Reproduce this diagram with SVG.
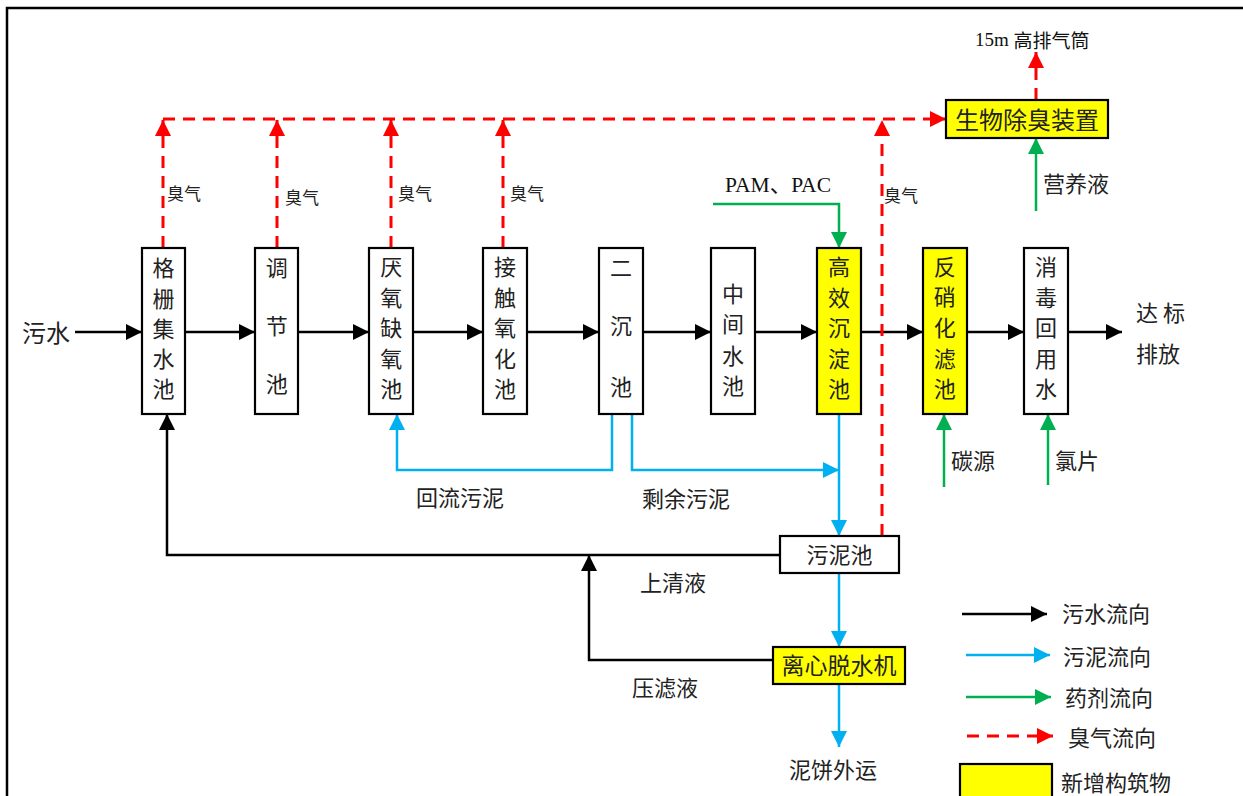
<svg xmlns="http://www.w3.org/2000/svg" width="1243" height="796" viewBox="0 0 1243 796">
<defs>
<style>
.box{fill:#fff;stroke:#000;stroke-width:2.2}
.ybox{fill:#FFFF00;stroke:#000;stroke-width:2.2}
.t{font-family:"Noto Sans CJK SC","Noto Sans",sans-serif;fill:#222;dominant-baseline:central;text-anchor:middle}
.tl{font-family:"Noto Sans CJK SC","Noto Sans",sans-serif;fill:#222;dominant-baseline:central;text-anchor:start}
.s{font-family:"Liberation Serif","Noto Sans CJK SC",serif;fill:#111;dominant-baseline:central}
.bk{fill:none;stroke:#000;stroke-width:2.5}
.bl{fill:none;stroke:#00B0F0;stroke-width:2.5}
.gr{fill:none;stroke:#00B050;stroke-width:2.5}
.rd{fill:none;stroke:#FF0000;stroke-width:3;stroke-dasharray:12 8}
</style>
<marker id="ak" markerUnits="userSpaceOnUse" markerWidth="16" markerHeight="16" refX="16" refY="8" orient="auto"><path d="M0,0 L16,8 L0,16 z" fill="#000"/></marker>
<marker id="ab" markerUnits="userSpaceOnUse" markerWidth="16" markerHeight="16" refX="16" refY="8" orient="auto"><path d="M0,0 L16,8 L0,16 z" fill="#00B0F0"/></marker>
<marker id="ag" markerUnits="userSpaceOnUse" markerWidth="16" markerHeight="16" refX="16" refY="8" orient="auto"><path d="M0,0 L16,8 L0,16 z" fill="#00B050"/></marker>
<marker id="ar" markerUnits="userSpaceOnUse" markerWidth="16" markerHeight="16" refX="16" refY="8" orient="auto"><path d="M0,0 L16,8 L0,16 z" fill="#FF0000"/></marker>
</defs>
<rect x="7" y="8" width="1250" height="800" fill="#fff" stroke="#000" stroke-width="2.5"/>

<g id="connectors">
<line class="bk" x1="75" y1="332" x2="142" y2="332" marker-end="url(#ak)"/>
<line class="bk" x1="185" y1="332" x2="255" y2="332" marker-end="url(#ak)"/>
<line class="bk" x1="298" y1="332" x2="369" y2="332" marker-end="url(#ak)"/>
<line class="bk" x1="413" y1="332" x2="483" y2="332" marker-end="url(#ak)"/>
<line class="bk" x1="527" y1="332" x2="599" y2="332" marker-end="url(#ak)"/>
<line class="bk" x1="643" y1="332" x2="711" y2="332" marker-end="url(#ak)"/>
<line class="bk" x1="755" y1="332" x2="817" y2="332" marker-end="url(#ak)"/>
<line class="bk" x1="861" y1="332" x2="923" y2="332" marker-end="url(#ak)"/>
<line class="bk" x1="967" y1="332" x2="1024" y2="332" marker-end="url(#ak)"/>
<line class="bk" x1="1068" y1="332" x2="1122" y2="332" marker-end="url(#ak)"/>
<line class="rd" x1="163" y1="248" x2="163" y2="120" marker-end="url(#ar)"/>
<line class="rd" x1="277" y1="248" x2="277" y2="120" marker-end="url(#ar)"/>
<line class="rd" x1="391" y1="248" x2="391" y2="120" marker-end="url(#ar)"/>
<line class="rd" x1="503" y1="248" x2="503" y2="120" marker-end="url(#ar)"/>
<line class="rd" x1="882" y1="536" x2="882" y2="120" marker-end="url(#ar)"/>
<line class="rd" x1="163" y1="119" x2="946" y2="119" marker-end="url(#ar)"/>
<line class="rd" x1="1036" y1="100" x2="1036" y2="52" marker-end="url(#ar)"/>
<polyline class="gr" points="713,204 839,204 839,248" marker-end="url(#ag)"/>
<line class="gr" x1="1036" y1="211" x2="1036" y2="138" marker-end="url(#ag)"/>
<line class="gr" x1="944" y1="487" x2="944" y2="414" marker-end="url(#ag)"/>
<line class="gr" x1="1048" y1="485" x2="1048" y2="414" marker-end="url(#ag)"/>
<polyline class="bl" points="612,414 612,470 397,470 397,414" marker-end="url(#ab)"/>
<polyline class="bl" points="632,414 632,470 839,470" marker-end="url(#ab)"/>
<line class="bl" x1="839" y1="414" x2="839" y2="536" marker-end="url(#ab)"/>
<line class="bl" x1="839" y1="573" x2="839" y2="647" marker-end="url(#ab)"/>
<line class="bl" x1="839" y1="684" x2="839" y2="747" marker-end="url(#ab)"/>
<polyline class="bk" points="780,555 167,555 167,414" marker-end="url(#ak)"/>
<polyline class="bk" points="773,660 589,660 589,555" marker-end="url(#ak)"/>
</g>

<g id="n_geshan"><rect class="box" x="142" y="248" width="43" height="166"/>
<text class="t" font-size="22" x="163.5" y="266">格</text><text class="t" font-size="22" x="163.5" y="297">栅</text><text class="t" font-size="22" x="163.5" y="327">集</text><text class="t" font-size="22" x="163.5" y="357">水</text><text class="t" font-size="22" x="163.5" y="387">池</text></g>
<g id="n_tiaojie"><rect class="box" x="255" y="248" width="43" height="166"/>
<text class="t" font-size="22" x="276.7" y="266">调</text><text class="t" font-size="22" x="276.7" y="324">节</text><text class="t" font-size="22" x="276.7" y="382">池</text></g>
<g id="n_yanyang"><rect class="box" x="369" y="248" width="44" height="166"/>
<text class="t" font-size="22" x="391.3" y="265">厌</text><text class="t" font-size="22" x="391.3" y="296">氧</text><text class="t" font-size="22" x="391.3" y="326">缺</text><text class="t" font-size="22" x="391.3" y="357">氧</text><text class="t" font-size="22" x="391.3" y="387">池</text></g>
<g id="n_jiechu"><rect class="box" x="483" y="248" width="44" height="166"/>
<text class="t" font-size="22" x="505" y="265">接</text><text class="t" font-size="22" x="505" y="296">触</text><text class="t" font-size="22" x="505" y="326">氧</text><text class="t" font-size="22" x="505" y="357">化</text><text class="t" font-size="22" x="505" y="387">池</text></g>
<g id="n_erchen"><rect class="box" x="599" y="248" width="44" height="166"/>
<text class="t" font-size="22" x="621" y="266">二</text><text class="t" font-size="22" x="621" y="324">沉</text><text class="t" font-size="22" x="621" y="385">池</text></g>
<g id="n_zhongjian"><rect class="box" x="711" y="248" width="44" height="166"/>
<text class="t" font-size="22" x="733" y="292">中</text><text class="t" font-size="22" x="733" y="322">间</text><text class="t" font-size="22" x="733" y="354">水</text><text class="t" font-size="22" x="733" y="384">池</text></g>
<g id="n_gaoxiao"><rect class="ybox" x="817" y="248" width="44" height="166"/>
<text class="t" font-size="22" x="839" y="265">高</text><text class="t" font-size="22" x="839" y="296">效</text><text class="t" font-size="22" x="839" y="326">沉</text><text class="t" font-size="22" x="839" y="357">淀</text><text class="t" font-size="22" x="839" y="387">池</text></g>
<g id="n_fanxiao"><rect class="ybox" x="923" y="248" width="44" height="166"/>
<text class="t" font-size="22" x="944.7" y="265">反</text><text class="t" font-size="22" x="944.7" y="295">硝</text><text class="t" font-size="22" x="944.7" y="326">化</text><text class="t" font-size="22" x="944.7" y="357">滤</text><text class="t" font-size="22" x="944.7" y="387">池</text></g>
<g id="n_xiaodu"><rect class="box" x="1024" y="248" width="44" height="166"/>
<text class="t" font-size="22" x="1046" y="265">消</text><text class="t" font-size="22" x="1046" y="296">毒</text><text class="t" font-size="22" x="1046" y="326">回</text><text class="t" font-size="22" x="1046" y="357">用</text><text class="t" font-size="22" x="1046" y="387">水</text></g>
<g id="n_chuchou"><rect class="ybox" x="946" y="100" width="162" height="38"/>
<text class="t" font-size="24" x="1027" y="118">生物除臭装置</text></g>
<g id="n_wunichi"><rect class="box" x="780" y="536" width="119" height="37"/>
<text class="t" font-size="22" x="839.5" y="553">污泥池</text></g>
<g id="n_lixin"><rect class="ybox" x="773" y="647" width="132" height="37"/>
<text class="t" font-size="23" x="839" y="664">离心脱水机</text></g>

<g id="labels">
<text class="tl" font-size="24" x="22" y="331">污水</text>
<text class="tl" font-size="22" x="1136" y="311">达 标</text>
<text class="tl" font-size="22" x="1136" y="352">排放</text>
<text class="tl" font-size="17" x="167" y="192">臭气</text>
<text class="tl" font-size="17" x="285" y="196">臭气</text>
<text class="tl" font-size="17" x="398" y="192">臭气</text>
<text class="tl" font-size="17" x="510" y="192">臭气</text>
<text class="tl" font-size="17" x="884" y="194">臭气</text>
<text class="s" font-size="19" x="975" y="39">15m <tspan font-family="Noto Sans CJK SC, sans-serif">高排气筒</tspan></text>
<text class="s" font-size="21.5" x="725" y="185">PAM、PAC</text>
<text class="tl" font-size="22" x="1043" y="182">营养液</text>
<text class="tl" font-size="22" x="951" y="459">碳源</text>
<text class="tl" font-size="22" x="1055" y="459">氯片</text>
<text class="tl" font-size="22" x="416" y="496">回流污泥</text>
<text class="tl" font-size="22" x="642" y="497">剩余污泥</text>
<text class="tl" font-size="22" x="640" y="581">上清液</text>
<text class="tl" font-size="22" x="632" y="686">压滤液</text>
<text class="tl" font-size="22" x="789" y="768">泥饼外运</text>
</g>

<g id="legend">
<line class="bk" x1="962" y1="614" x2="1047" y2="614" marker-end="url(#ak)"/>
<line class="bl" x1="966" y1="655" x2="1050" y2="655" marker-end="url(#ab)"/>
<line class="gr" x1="966" y1="697" x2="1051" y2="697" marker-end="url(#ag)"/>
<line class="rd" x1="967" y1="736" x2="1053" y2="736" marker-end="url(#ar)" stroke-dasharray="10 7"/>
<rect class="ybox" x="960" y="764" width="92" height="40"/>
<text class="tl" font-size="22" x="1062" y="612">污水流向</text>
<text class="tl" font-size="22" x="1063" y="655">污泥流向</text>
<text class="tl" font-size="22" x="1065" y="696">药剂流向</text>
<text class="tl" font-size="22" x="1068" y="736">臭气流向</text>
<text class="tl" font-size="22" x="1061" y="781">新增构筑物</text>
</g>
</svg>
